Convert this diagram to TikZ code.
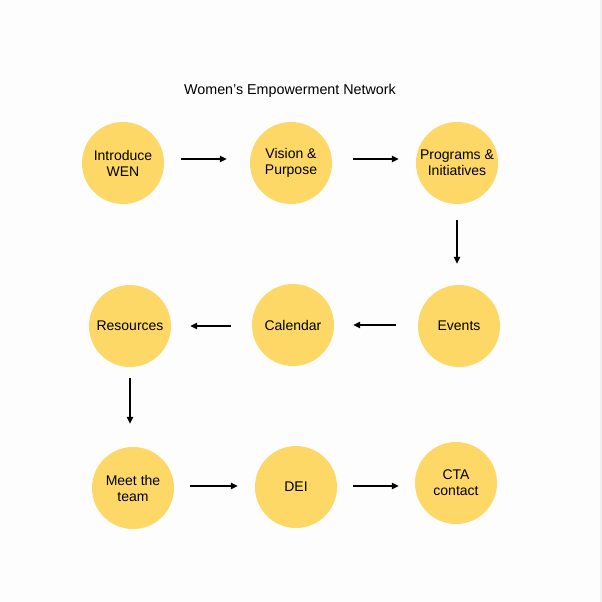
\documentclass[tikz,border=0pt]{standalone}
\usepackage{fontspec}
\setmainfont{Liberation Sans}
\usetikzlibrary{arrows.meta,calc}
\definecolor{bub}{RGB}{253,216,102}
\definecolor{bg}{RGB}{253,253,253}
\begin{document}
\begin{tikzpicture}[x=1pt,y=-1pt,
  bubble/.style={circle,fill=bub,minimum size=82pt,inner sep=0pt,align=center,font=\fontsize{14}{16}\selectfont},
  arr/.style={line width=1.2pt,-{Triangle[length=7pt,width=6.5pt]}}]
\fill[bg] (0,0) rectangle (602,602);
\fill[gray!12] (599.5,0) rectangle (602,602);
\useasboundingbox (0,0) rectangle (602,602);
\node[font=\fontsize{14.3}{16}\selectfont] (title) at (290,91) {Women’s Empowerment Network};
\node[bubble] (a) at (123,163) {Introduce\\WEN};
\node[bubble] (b) at (291,163) {Vision \&\\Purpose};
\node[bubble] (c) at (457,163) {Programs \&\\Initiatives};
\node[bubble] (d) at (459,326) {Events};
\node[bubble] (e) at (293,325) {Calendar};
\node[bubble] (f) at (130,326) {Resources};
\node[bubble] (g) at (133,488) {Meet the\\team};
\node[bubble] (h) at (296,487) {DEI};
\node[bubble] (i) at (456,483) {CTA\\contact};
\draw[arr] ([xshift=17pt,yshift=4pt]a.east) -- ([xshift=-23pt,yshift=4pt]b.west);
\draw[arr] ([xshift=21pt,yshift=4pt]b.east) -- ([xshift=-17pt,yshift=4pt]c.west);
\draw[arr] ($(c.south)+(0,16)$) -- ($(c.south |- d.north)+(0,-21)$);
\draw[arr] ([xshift=-22pt,yshift=1pt]d.west) -- ([xshift=19pt]e.east);
\draw[arr] ([xshift=-21pt,yshift=-1pt]e.west) -- ([xshift=19pt]f.east);
\draw[arr] ($(f.south)+(0,11)$) -- ($(f.south |- g.north)+(0,-23)$);
\draw[arr] ([xshift=16pt,yshift=2pt]g.east) -- ([xshift=-17pt,yshift=1pt]h.west);
\draw[arr] ([xshift=16pt,yshift=1pt]h.east) -- ([xshift=-16pt,yshift=-3pt]i.west);
\end{tikzpicture}
\end{document}
